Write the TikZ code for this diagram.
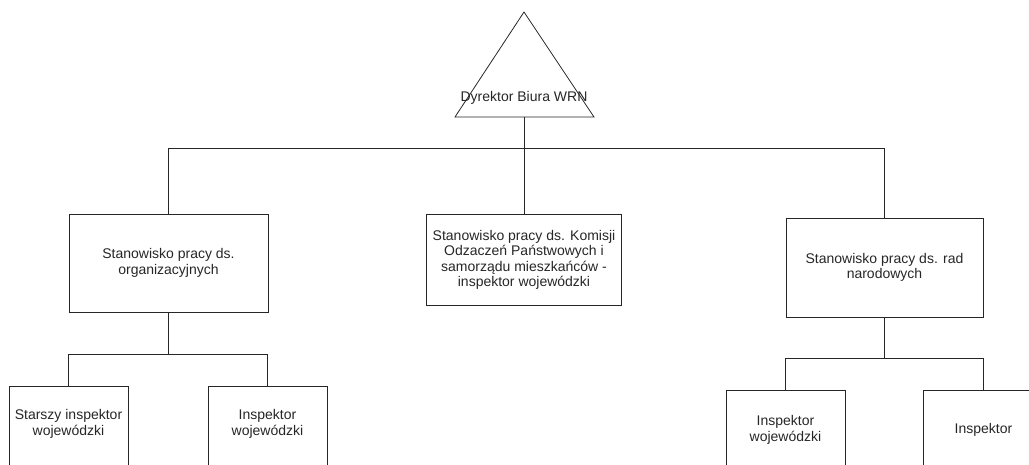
\documentclass[tikz,border=0pt]{standalone}
\usepackage{fontspec}
\setmainfont{Liberation Sans}
\begin{document}
\begin{tikzpicture}[x=1pt,y=-1pt,line width=0.8pt,
  every node/.style={font=\fontsize{14}{15.5}\selectfont,text=black!85},
  box/.style={draw=black!85,rectangle,inner sep=0pt,align=center},
  lbl/.style={align=center,inner sep=0pt},
  conn/.style={draw=black!85}]
\useasboundingbox (0,0) rectangle (1029,464);
\clip (0,0) rectangle (1029,464);
% director triangle
\coordinate (apex) at (524,12);
\coordinate (bl) at (455,117);
\coordinate (br) at (594,117);
\draw[black!85] (apex) -- (br) -- (bl) -- cycle;
\node[lbl] (dir) at (524,98) {Dyrektor Biura WRN};
\coordinate (dirb) at (524,117);
% level 1
\node[box,minimum width=199pt,minimum height=98pt] (org) at (168.5,263) {Stanowisko pracy ds.\\organizacyjnych};
\node[box,minimum width=195pt,minimum height=91pt] (kom) at (524,260) {Stanowisko pracy ds. Komisji\\Odzaczeń Państwowych i\\samorządu mieszkańców -\\inspektor wojewódzki};
\node[box,minimum width=197pt,minimum height=99pt] (rad) at (884.5,267.5) {Stanowisko pracy ds. rad\\narodowych};
% level 2
\node[box,minimum width=119pt,minimum height=100pt] (s1) at (68.5,436) {};
\node[box,minimum width=119pt,minimum height=100pt] (s2) at (267.5,436) {};
\node[box,minimum width=119pt,minimum height=100pt] (r1) at (785.5,440) {};
\node[box,minimum width=120pt,minimum height=100pt] (r2) at (983.5,440) {};
\node[lbl] (s1t) at (68.5,424) {Starszy inspektor\\wojewódzki};
\node[lbl] (s2t) at (267.5,424) {Inspektor\\wojewódzki};
\node[lbl] (r1t) at (785.5,430) {Inspektor\\wojewódzki};
\node[lbl] (r2t) at (983.5,430) {Inspektor};
% connectors
\coordinate (bus) at (524,148);
\draw[conn] (dirb) -- (bus);
\draw[conn] (bus) -| (org.north);
\draw[conn] (bus) -| (rad.north);
\draw[conn] (bus) -- (kom.north);
\coordinate (bus2) at (168.5,354);
\draw[conn] (org.south) -- (bus2);
\draw[conn] (bus2) -| (s1.north);
\draw[conn] (bus2) -| (s2.north);
\coordinate (bus3) at (884.5,358);
\draw[conn] (rad.south) -- (bus3);
\draw[conn] (bus3) -| (r1.north);
\draw[conn] (bus3) -| (r2.north);
\end{tikzpicture}
\end{document}
